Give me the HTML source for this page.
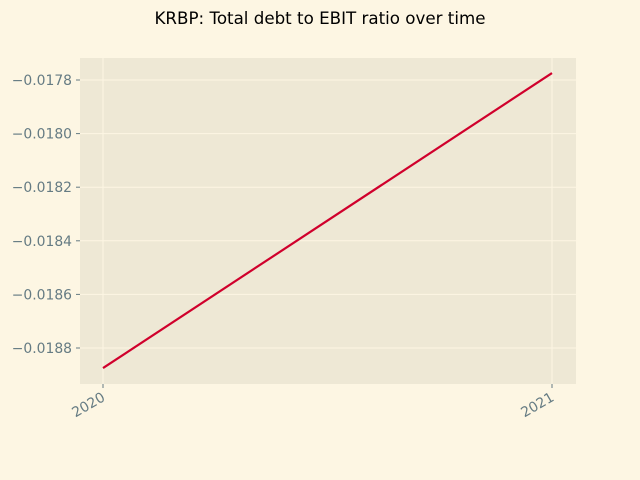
<!DOCTYPE html>
<html><head><meta charset="utf-8"><style>
body{margin:0;background:#fdf6e3;}
svg{display:block;font-family:"DejaVu Sans","Liberation Sans",sans-serif;}
</style></head><body>
<svg id="chart" width="640" height="480">
<rect width="640" height="480" fill="#fdf6e3"/>
<text x="320" y="24" text-anchor="middle" font-size="16.7" fill="#000">KRBP: Total debt to EBIT ratio over time</text>
<rect x="80" y="58" width="496" height="326" fill="#eee8d5"/>
<g id="grid"></g><g id="axes"></g><g id="series"></g>
</svg>
<script>
const years = ["2020","2021"];
const ratios = [-0.018875, -0.017774];
const yTicks = [-0.0178,-0.0180,-0.0182,-0.0184,-0.0186,-0.0188];
const ns="http://www.w3.org/2000/svg";
const xS=i=>103+i*(552-103);
const yS=v=>80+(-0.0178-v)/0.001*268;
const grid=document.getElementById('grid'),axes=document.getElementById('axes'),series=document.getElementById('series');
function mk(tag,attrs,parent){const e=document.createElementNS(ns,tag);for(const k in attrs)e.setAttribute(k,attrs[k]);parent.appendChild(e);return e;}
yTicks.forEach(t=>{
  const y=yS(t);
  const g=mk('line',{x1:80,x2:576,y1:y,y2:y,stroke:'#fdf6e3','stroke-width':1},grid);
  
  
  mk('line',{x1:76,x2:80,y1:y,y2:y,stroke:'#657b83'},axes);
  const tx=mk('text',{x:72,y:y+5,'text-anchor':'end','font-size':13.9,fill:'#657b83'},axes);
  tx.textContent='\u2212'+Math.abs(t).toFixed(4);
  
  
});
years.forEach((yr,i)=>{
  const x=xS(i);
  const g=mk('line',{x1:x,x2:x,y1:58,y2:384,stroke:'#fdf6e3','stroke-width':1},grid);
  
  
  mk('line',{x1:x,x2:x,y1:384,y2:388,stroke:'#657b83'},axes);
  const tx=mk('text',{x:x+3,y:400,'text-anchor':'end','font-size':13.9,fill:'#657b83',transform:`rotate(-30 ${x+3} 400)`},axes);
  tx.textContent=yr;
  
  
});
const pts=ratios.map((v,i)=>xS(i)+','+yS(v)).join(' ');
const line=mk('polyline',{points:pts,fill:'none',stroke:'#d0002c','stroke-width':2.2},series);


</script>
</body></html>
